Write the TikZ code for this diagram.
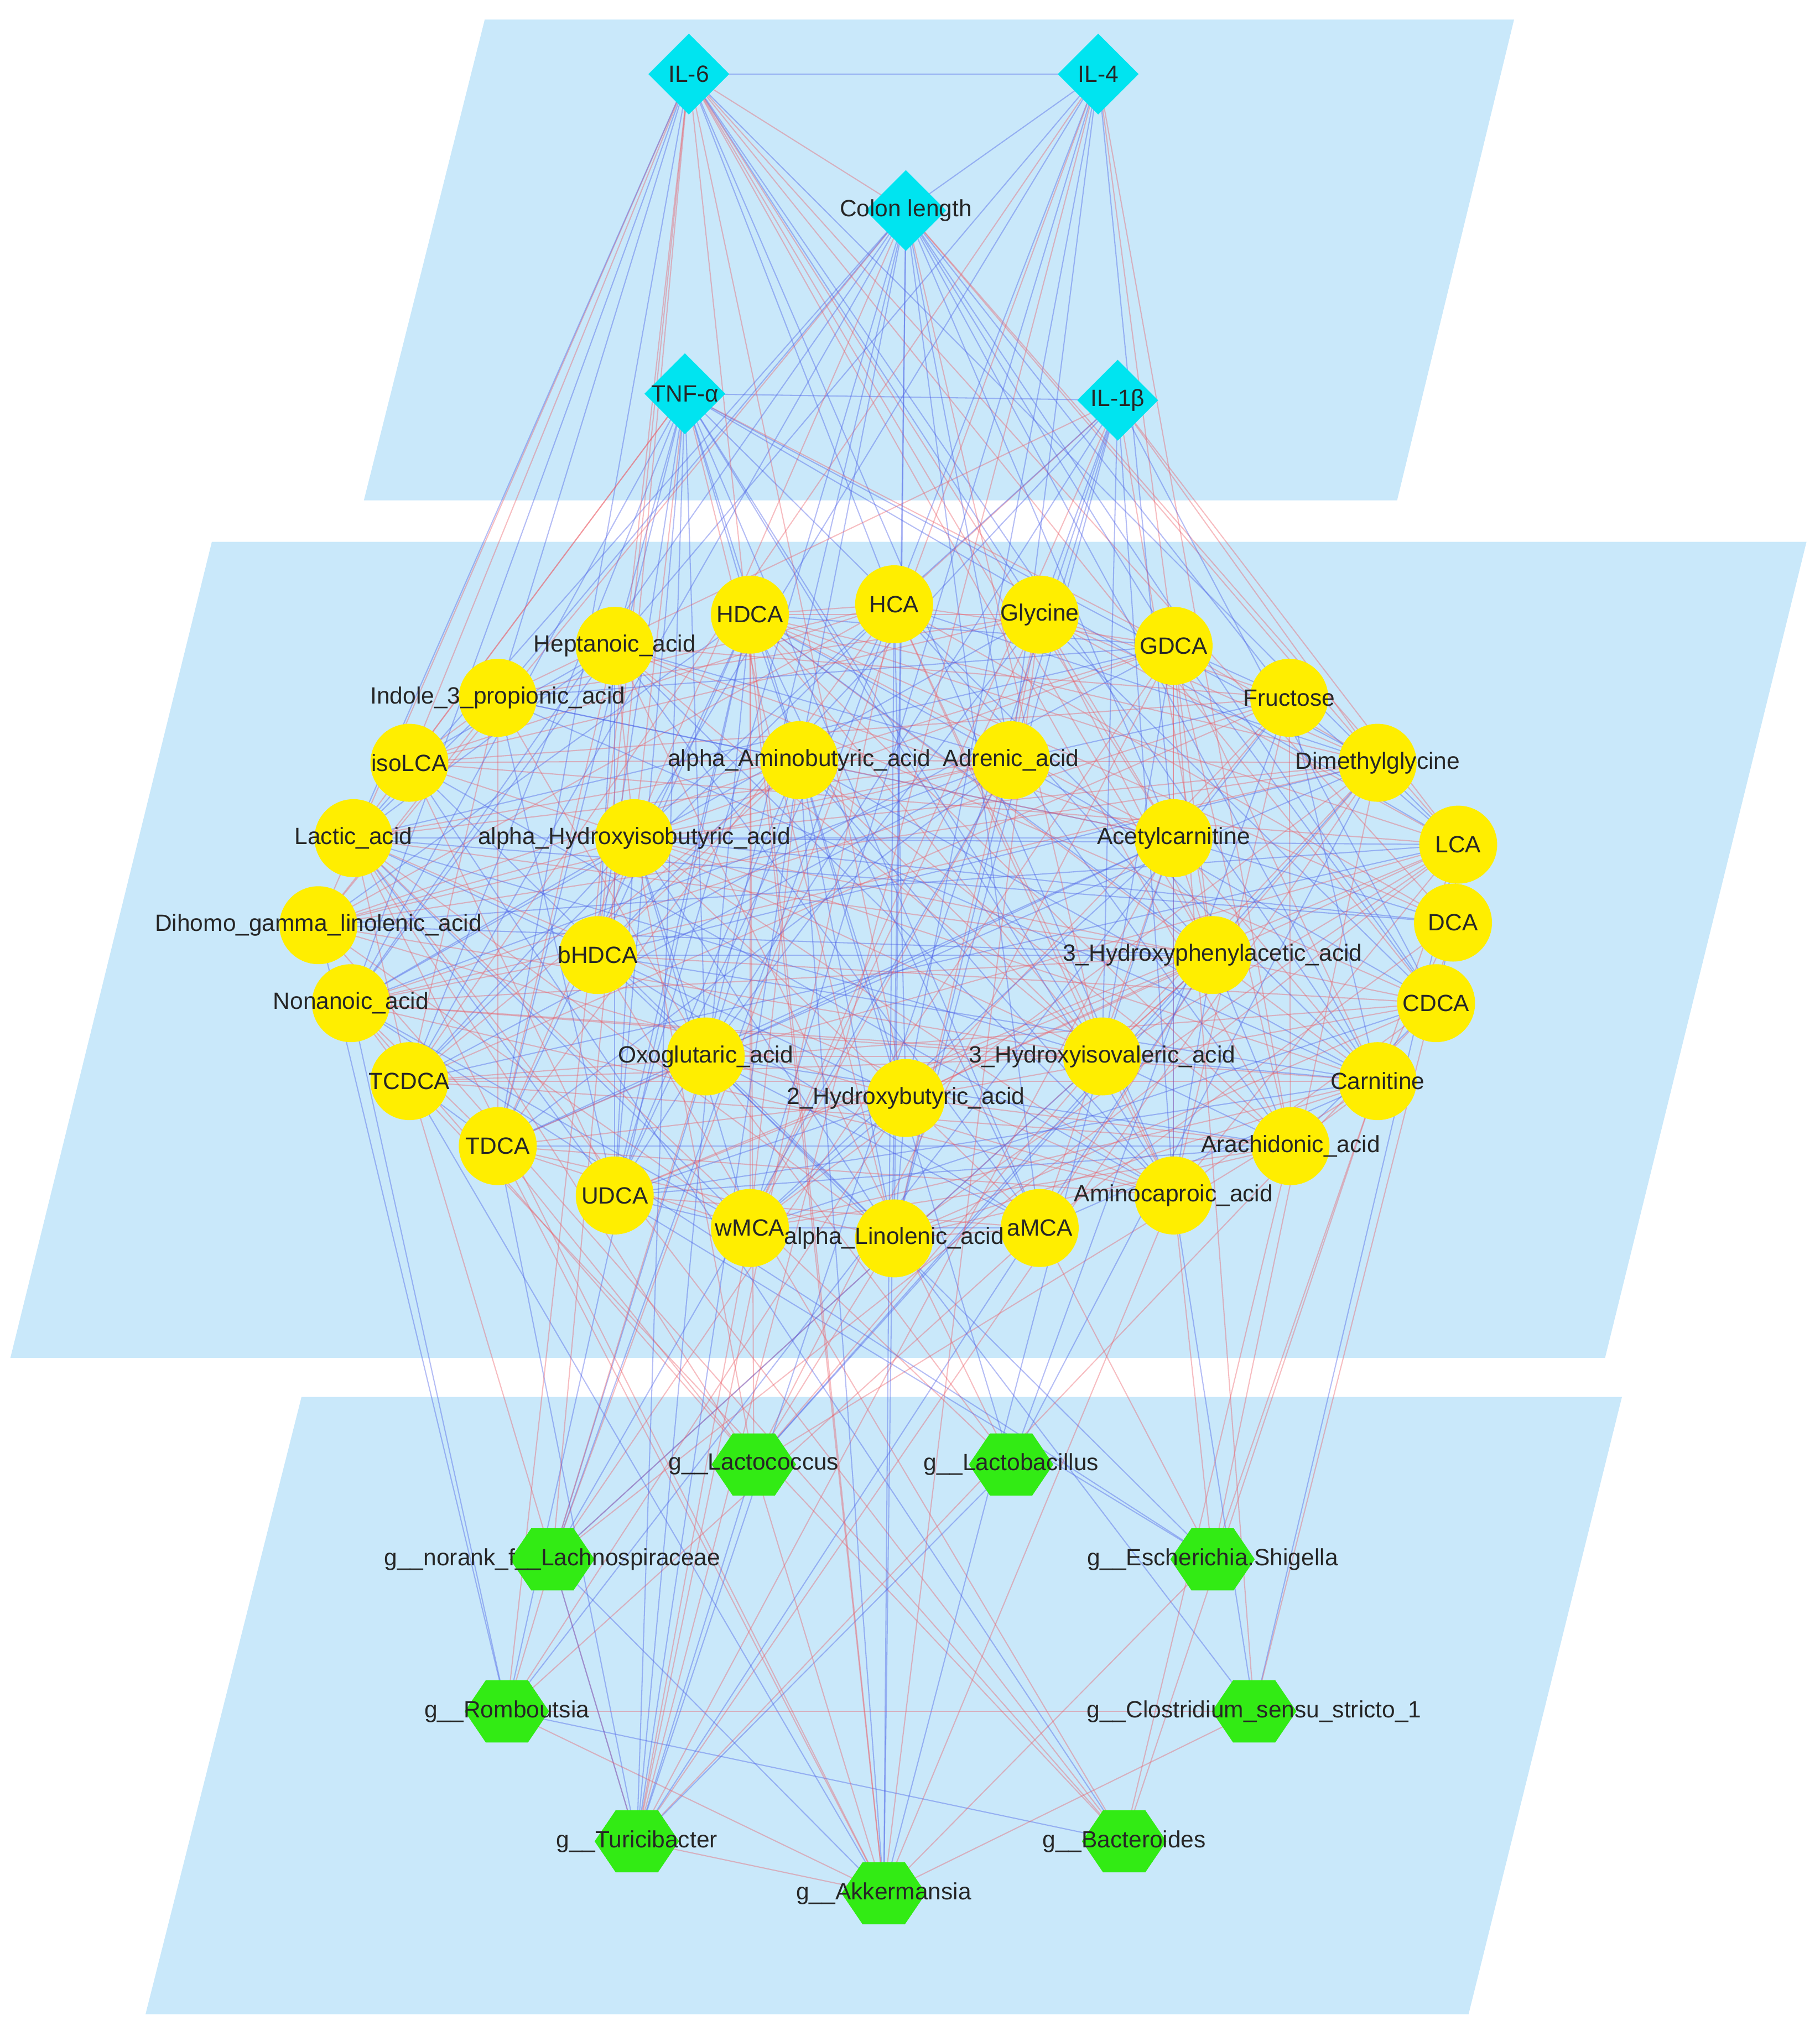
\documentclass[tikz,border=0pt]{standalone}
\usepackage{fontspec}
\setmainfont{Liberation Sans}
\usetikzlibrary{shapes.geometric}
\pgfdeclarelayer{bg}\pgfdeclarelayer{edges}
\pgfsetlayers{bg,edges,main}
\definecolor{plane}{RGB}{201,232,250}
\definecolor{cyanN}{RGB}{0,228,240}
\definecolor{yelN}{RGB}{255,238,0}
\definecolor{grnN}{RGB}{50,235,20}
\definecolor{redE}{RGB}{235,90,100}
\definecolor{bluE}{RGB}{70,90,230}
\tikzset{
 cyt/.style={diamond,fill=cyanN,minimum width=1.25cm,minimum height=1.25cm,inner sep=0pt},
 met/.style={circle,fill=yelN,minimum size=1.2cm,inner sep=0pt},
 bac/.style={regular polygon,regular polygon sides=6,fill=grnN,minimum size=1.3cm,inner sep=0pt,yscale=0.85},
 lab/.style={font=\fontsize{10.3}{12}\selectfont,text=black!85,inner sep=0pt},
 re/.style={draw=redE,opacity=0.4,line width=0.5pt},
 be/.style={draw=bluE,opacity=0.4,line width=0.5pt}
}
\begin{document}
\begin{tikzpicture}[x=0.02cm,y=-0.02cm]
\useasboundingbox (0,0) rectangle (1400,1563);
\begin{pgfonlayer}{bg}
\fill[plane] (280,385)--(1075,385)--(1165,15)--(373,15)--cycle;
\fill[plane] (163,417)--(1390,417)--(1235,1045)--(8,1045)--cycle;
\fill[plane] (232,1075)--(1248,1075)--(1130,1550)--(112,1550)--cycle;
\end{pgfonlayer}
% cytokines
\foreach \n/\x/\y in {1/530/57,2/845/57,3/697/162,4/527/303,5/860/308}{
 \node[cyt] (c\n) at (\x,\y) {};}
% metabolites
\foreach \n/\x/\y in {1/577/473,2/688/465,3/800/473,4/903/497,5/992/537,6/1060/587,7/1122/650,8/1118/710,9/1105/772,10/1060/832,11/993/882,12/903/920,13/800/945,14/688/953,15/577/945,16/473/920,17/383/882,18/315/832,19/270/772,20/245/712,21/272/645,22/315/587,23/383/537,24/473/497,25/615/585,26/778/585,27/488/645,28/903/645,29/460/735,30/933/735,31/543/813,32/848/813,33/697/845}{
 \node[met] (m\n) at (\x,\y) {};}
% bacteria
\foreach \n/\x/\y in {1/580/1127,2/778/1127,3/425/1200,4/933/1200,5/390/1317,6/965/1317,7/490/1417,8/865/1417,9/680/1457}{
 \node[bac] (b\n) at (\x,\y) {};}
% edges
\pgfmathsetseed{4242}
\begin{pgfonlayer}{edges}
\draw[be] (c1.center)--(c2.center);
\draw[be] (c4.center)--(c5.center);
\draw[re] (c1.center)--(c3.center);
\draw[be] (c2.center)--(c3.center);
\foreach \i in {1,...,32}{
 \pgfmathtruncatemacro\s{\i+1}
 \foreach \j in {\s,...,33}{
  \pgfmathsetmacro\r{rnd}\pgfmathsetmacro\q{rnd}
  \ifdim\r pt<0.42pt
   \ifdim\q pt<0.58pt \draw[re] (m\i.center)--(m\j.center);
   \else \draw[be] (m\i.center)--(m\j.center);\fi
  \fi}}
\foreach \i in {1,...,5}{
 \foreach \j in {1,...,33}{
  \pgfmathsetmacro\r{rnd}\pgfmathsetmacro\q{rnd}
  \ifdim\r pt<0.5pt
   \ifdim\q pt<0.4pt \draw[re] (c\i.center)--(m\j.center);
   \else \draw[be] (c\i.center)--(m\j.center);\fi
  \fi}}
\foreach \i in {1,...,9}{
 \foreach \j in {1,...,33}{
  \pgfmathsetmacro\r{rnd}\pgfmathsetmacro\q{rnd}
  \ifdim\r pt<0.2pt
   \ifdim\q pt<0.6pt \draw[re] (b\i.center)--(m\j.center);
   \else \draw[be] (b\i.center)--(m\j.center);\fi
  \fi}}
\foreach \i/\j/\s in {5/6/re,3/7/be,5/8/be,7/9/re,3/5/re,1/7/be,2/7/be,4/9/re,5/9/re,6/9/re,3/9/be,1/9/re}{
 \draw[\s] (b\i.center)--(b\j.center);}
\foreach \i/\j/\s in {1/3/re,1/5/re,2/7/re,4/7/be,5/7/be,1/9/re,3/9/be,2/3/re}{
 \draw[\s] (c\i.center)--(b\j.center);}
\end{pgfonlayer}
% labels
\foreach \n/\t in {1/IL-6,2/IL-4,3/Colon length,4/TNF-α,5/IL-1β}{\node[lab] at (c\n) {\t};}
\foreach \n/\t in {1/HDCA,2/HCA,3/Glycine,4/GDCA,5/Fructose,6/Dimethylglycine,7/LCA,8/DCA,9/CDCA,10/Carnitine,11/Arachidonic\_acid,12/Aminocaproic\_acid,13/aMCA,14/alpha\_Linolenic\_acid,15/wMCA,16/UDCA,17/TDCA,18/TCDCA,19/Nonanoic\_acid,20/Dihomo\_gamma\_linolenic\_acid,21/Lactic\_acid,22/isoLCA,23/Indole\_3\_propionic\_acid,24/Heptanoic\_acid,25/alpha\_Aminobutyric\_acid,26/Adrenic\_acid,27/alpha\_Hydroxyisobutyric\_acid,28/Acetylcarnitine,29/bHDCA,30/3\_Hydroxyphenylacetic\_acid,31/Oxoglutaric\_acid,32/3\_Hydroxyisovaleric\_acid,33/2\_Hydroxybutyric\_acid}{\node[lab] at (m\n) {\t};}
\foreach \n/\t in {1/g\_\_Lactococcus,2/g\_\_Lactobacillus,3/g\_\_norank\_f\_\_Lachnospiraceae,4/g\_\_Escherichia.Shigella,5/g\_\_Romboutsia,6/g\_\_Clostridium\_sensu\_stricto\_1,7/g\_\_Turicibacter,8/g\_\_Bacteroides,9/g\_\_Akkermansia}{\node[lab] at (b\n) {\t};}
\end{tikzpicture}
\end{document}
